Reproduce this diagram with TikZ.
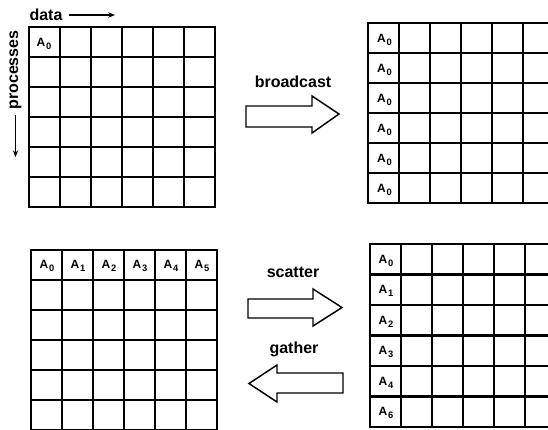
\documentclass[tikz,border=0pt]{standalone}
\usepackage{fontspec}
\setmainfont{Liberation Sans}
\usetikzlibrary{arrows.meta}
\tikzset{
  gridline/.style={line width=1.8pt, line cap=rect},
  bigarrow/.style={draw, line width=1.1pt, line join=miter, fill=white},
  lbl/.style={inner sep=0pt, font=\fontsize{12}{14}\selectfont\bfseries},
  cell/.style={inner sep=0pt, font=\fontsize{9}{10}\selectfont\bfseries},
  axisarrow/.style={line width=1pt, -{Stealth[length=5pt,width=4pt]}}
}
\newcommand{\mygrid}[4]{%
  \foreach \i in {0,...,6} {
    \draw[gridline] ({#1+\i*#3},{#2}) -- ({#1+\i*#3},{#2+6*#4});
    \draw[gridline] ({#1},{#2+\i*#4}) -- ({#1+6*#3},{#2+\i*#4});
  }}
\newcommand{\sublab}[1]{A\kern0.6pt\raisebox{-0.45ex}{\fontsize{7}{8}\selectfont #1}}
\begin{document}
\begin{tikzpicture}[x=0.75pt,y=-0.75pt]
\useasboundingbox (0,0) rectangle (548,429);
\clip (0,0) rectangle (548,429);
% grids
\mygrid{29}{27}{31}{30}
\mygrid{368}{23}{31}{30}
\mygrid{31}{250}{31}{30}
\mygrid{370}{244}{31}{30.5}
% axis labels
\node[lbl] (data) at (46,15) {data};
\coordinate (dataend) at (115,15);
\draw[axisarrow] (data.east) ++(5pt,0) -- (dataend);
\node[lbl, rotate=90] (proc) at (15.5,70) {processes};
\coordinate (procend) at (15.5,157);
\draw[axisarrow] (proc.west) ++(0,-4pt) -- (procend);
% cell labels
\node[cell] (tla0) at (44,43.5) {\sublab{0}};
\foreach \r in {0,...,5} {
  \node[cell] (tra\r) at (384.5,{39.5+\r*30}) {\sublab{0}};
}
\foreach \c in {0,...,5} {
  \node[cell] (bla\c) at ({47+\c*31},266) {\sublab{\c}};
}
\foreach \r/\t in {0/0,1/1,2/2,3/3,4/4,5/6} {
  \node[cell] (bra\r) at (386,{260.5+\r*30.5}) {\sublab{\t}};
}
% operation labels
\node[lbl] (bcast) at (293,82) {broadcast};
\node[lbl] (scat) at (293,272) {scatter};
\node[lbl] (gath) at (294,349) {gather};
% big arrows
\draw[bigarrow] (246,106) -- (312,106) -- (312,96) -- (339,114) -- (312,133) -- (312,127) -- (246,127) -- cycle;
\draw[bigarrow] (248,299) -- (313,299) -- (313,289) -- (342,307.5) -- (313,326) -- (313,318) -- (248,318) -- cycle;
\draw[bigarrow] (343,373) -- (277,373) -- (277,365) -- (249,383.5) -- (277,402) -- (277,393) -- (343,393) -- cycle;
\end{tikzpicture}
\end{document}
